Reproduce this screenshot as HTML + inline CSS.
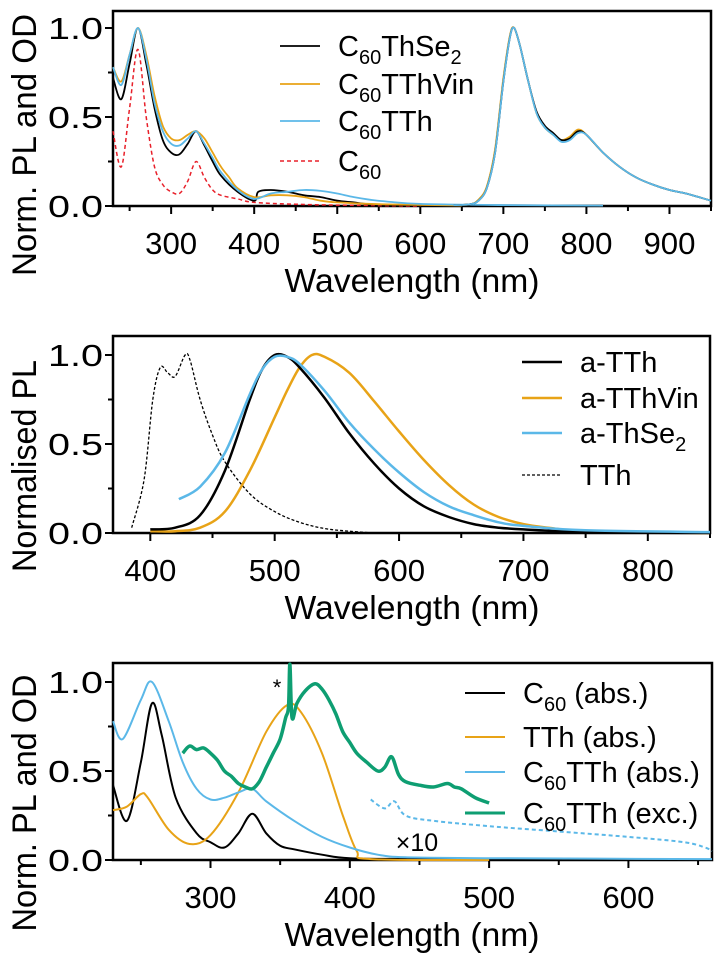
<!DOCTYPE html>
<html><head><meta charset="utf-8"><style>
body{margin:0;background:#fff}
svg{display:block;font-family:"Liberation Sans",Arial,sans-serif}
</style></head><body>
<svg id="fig" width="720" height="964" viewBox="0 0 720 964"></svg>
<script>
// ---------- Panel 1 data ----------
const p1ThSe2Abs = [[230,0.72],[240,0.6],[250,0.8],[260,1.0],[270,0.8],[280,0.55],[290,0.37],[300,0.3],[310,0.29],[320,0.35],[330,0.42],[340,0.34],[350,0.25],[360,0.17],[380,0.08],[400,0.03],[405,0.08],[420,0.09],[440,0.08],[460,0.06],[480,0.05],[500,0.03],[520,0.02],[540,0.01],[600,0.005],[820,0.003]];
const p1ThSe2PL = [[640,0.005],[660,0.01],[670,0.03],[680,0.1],[690,0.3],[700,0.7],[708,0.95],[713,1.0],[720,0.9],[730,0.7],[740,0.53],[750,0.45],[760,0.41],[770,0.37],[780,0.38],[790,0.42],[800,0.4],[820,0.3],[840,0.22],[860,0.16],[880,0.12],[900,0.09],[920,0.07],[950,0.03]];
const p1TThVinAbs = [[230,0.78],[240,0.7],[250,0.85],[260,1.0],[270,0.85],[280,0.62],[290,0.45],[300,0.38],[310,0.37],[320,0.4],[330,0.42],[340,0.38],[350,0.3],[360,0.22],[370,0.16],[380,0.1],[400,0.05],[420,0.06],[440,0.06],[460,0.05],[480,0.03],[500,0.02],[550,0.01],[650,0.003]];
const p1TThVinPL = [[640,0.005],[660,0.01],[670,0.035],[680,0.11],[690,0.32],[700,0.72],[708,0.96],[713,1.0],[720,0.9],[730,0.7],[740,0.52],[750,0.44],[760,0.4],[770,0.37],[780,0.39],[790,0.43],[800,0.4],[820,0.3],[840,0.22],[860,0.16],[880,0.12],[900,0.09],[920,0.07],[950,0.03]];
const p1TThAbs = [[230,0.78],[240,0.68],[250,0.85],[260,1.0],[270,0.83],[280,0.58],[290,0.42],[300,0.35],[310,0.34],[320,0.38],[330,0.42],[340,0.35],[350,0.27],[360,0.19],[380,0.09],[400,0.04],[420,0.07],[440,0.08],[460,0.09],[480,0.085],[500,0.07],[520,0.05],[540,0.035],[560,0.025],[600,0.012],[700,0.005],[820,0.002]];
const p1TThPL = [[640,0.005],[660,0.01],[670,0.03],[680,0.1],[690,0.3],[700,0.7],[708,0.95],[713,1.0],[720,0.9],[730,0.7],[740,0.52],[750,0.44],[760,0.4],[770,0.36],[780,0.37],[790,0.41],[800,0.4],[820,0.3],[840,0.22],[860,0.16],[880,0.12],[900,0.09],[920,0.07],[950,0.03]];
const p1C60 = [[230,0.42],[240,0.22],[250,0.55],[260,0.88],[270,0.5],[280,0.22],[290,0.12],[300,0.08],[310,0.07],[320,0.14],[330,0.25],[340,0.16],[350,0.09],[360,0.06],[380,0.04],[400,0.02],[450,0.01],[500,0.005],[600,0.0]];
const p1XTicks = [300,400,500,600,700,800,900];
const yTickLabels = ["0.0","0.5","1.0"];
const yTickVals = [0,0.5,1.0];

// ---------- Panel 2 data ----------
const p2TTh = [[400,0.02],[420,0.03],[440,0.1],[460,0.35],[480,0.75],[490,0.92],[500,1.0],[510,0.99],[520,0.93],[540,0.76],[560,0.56],[580,0.39],[600,0.25],[620,0.15],[640,0.09],[660,0.05],[680,0.03],[700,0.02],[750,0.005],[850,0.0]];
const p2TThVin = [[400,0.01],[420,0.01],[440,0.03],[460,0.12],[480,0.35],[500,0.65],[510,0.8],[520,0.93],[530,1.0],[540,0.99],[560,0.9],[580,0.74],[600,0.57],[620,0.41],[640,0.27],[660,0.16],[680,0.09],[700,0.05],[720,0.03],[750,0.01],[850,0.0]];
const p2ThSe2 = [[423,0.19],[440,0.26],[460,0.45],[480,0.78],[490,0.92],[500,0.99],[510,0.99],[520,0.95],[540,0.8],[560,0.62],[580,0.47],[600,0.34],[620,0.23],[640,0.15],[660,0.1],[680,0.06],[700,0.04],[750,0.015],[850,0.005]];
const p2TThSol = [[385,0.03],[395,0.3],[402,0.75],[408,0.93],[414,0.9],[420,0.88],[428,1.0],[432,0.97],[440,0.75],[450,0.55],[460,0.4],[480,0.22],[500,0.12],[520,0.06],[540,0.025],[560,0.01],[580,0.0]];
const p2XTicks = [400,500,600,700,800];

// ---------- Panel 3 data ----------
const p3C60 = [[230,0.42],[240,0.22],[250,0.55],[258,0.88],[265,0.7],[275,0.35],[290,0.15],[300,0.1],[310,0.07],[320,0.15],[330,0.26],[340,0.15],[350,0.08],[360,0.06],[380,0.03],[400,0.01],[450,0.005],[500,0.0]];
const p3TTh = [[230,0.28],[240,0.3],[250,0.37],[255,0.35],[270,0.17],[285,0.09],[300,0.14],[320,0.38],[340,0.72],[355,0.87],[365,0.83],[380,0.6],[395,0.25],[405,0.05],[415,0.005],[500,0.0]];
const p3C60TTh = [[230,0.78],[237,0.68],[250,0.9],[258,1.0],[270,0.78],[280,0.55],[290,0.4],[300,0.34],[310,0.35],[320,0.38],[330,0.4],[340,0.33],[360,0.22],[380,0.13],[400,0.07],[420,0.03],[440,0.015],[500,0.01],[660,0.005]];
const p3C60TThX10 = [[415,0.34],[425,0.29],[432,0.33],[440,0.25],[460,0.22],[500,0.19],[550,0.16],[600,0.13],[640,0.1],[655,0.07],[660,0.05]];
const p3Exc = [[280,0.6],[285,0.64],[290,0.62],[295,0.63],[300,0.6],[305,0.56],[310,0.5],[315,0.47],[320,0.43],[325,0.41],[330,0.4],[335,0.44],[340,0.52],[345,0.6],[350,0.68],[354,0.8],[356,0.86],[357,1.1],[358.5,0.8],[362,0.88],[368,0.95],[375,0.99],[380,0.96],[385,0.9],[390,0.82],[395,0.72],[400,0.66],[405,0.6],[412,0.55],[420,0.5],[425,0.52],[430,0.58],[435,0.48],[440,0.44],[450,0.42],[460,0.41],[470,0.43],[475,0.41],[480,0.4],[490,0.35],[500,0.32]];
const p3XTicks = [300,400,500,600];

const NS="http://www.w3.org/2000/svg";
const svg=document.getElementById('fig');
function mk(tag,attrs,parent){const e=document.createElementNS(NS,tag);for(const k in attrs)e.setAttribute(k,attrs[k]);(parent||svg).appendChild(e);return e;}

function makeAxes(P){
  const sx=v=>P.x0+(v-P.xmin)/(P.xmax-P.xmin)*(P.x1-P.x0);
  const sy=v=>P.yz+(P.yo-P.yz)*v;
  return {sx,sy};
}
function pathD(data,sx,sy,P){
  const pts=data.map(d=>[sx(d[0]),Math.max(P.top,sy(d[1]))]);
  let d='M'+pts[0][0].toFixed(1)+','+pts[0][1].toFixed(1);
  for(let i=0;i<pts.length-1;i++){
    const p0=pts[Math.max(0,i-1)],p1=pts[i],p2=pts[i+1],p3=pts[Math.min(pts.length-1,i+2)];
    const c1=[p1[0]+(p2[0]-p0[0])/6,p1[1]+(p2[1]-p0[1])/6];
    const c2=[p2[0]-(p3[0]-p1[0])/6,p2[1]-(p3[1]-p1[1])/6];
    d+=' C'+c1[0].toFixed(1)+','+c1[1].toFixed(1)+' '+c2[0].toFixed(1)+','+c2[1].toFixed(1)+' '+p2[0].toFixed(1)+','+p2[1].toFixed(1);
  }
  return d;
}
function frame(P,xt,ytitle,ylen,ycenter,name){
  const g=mk('g',{});
  
  
  const {sx,sy}=makeAxes(P);
  const bg=mk('rect',{x:P.x0,y:P.top,width:P.x1-P.x0,height:P.yz-P.top,fill:'none',stroke:'#000','stroke-width':2.5},g);
  
  
  for(let v=Math.ceil(P.xmin/50)*50; v<=P.xmax; v+=50){
    const major=xt.includes(v);
    mk('line',{x1:sx(v),x2:sx(v),y1:P.yz,y2:P.yz+(major?8:5),stroke:'#000','stroke-width':2},g);
  }
  xt.forEach(v=>{
    const t=mk('text',{x:sx(v),y:P.yz+48,'font-size':31,'text-anchor':'middle',fill:'#000',textLength:52,lengthAdjust:'spacingAndGlyphs'},g);
    t.textContent=v;
    
    
  });
  [0,0.25,0.5,0.75,1.0].forEach(v=>{
    const major=yTickVals.includes(v);
    mk('line',{x1:P.x0,x2:P.x0-(major?8:5),y1:sy(v),y2:sy(v),stroke:'#000','stroke-width':2},g);
  });
  yTickVals.forEach((v,i)=>{
    const t=mk('text',{x:P.x0-10,y:sy(v)+11,'font-size':31,'text-anchor':'end',fill:'#000',textLength:55,lengthAdjust:'spacingAndGlyphs'},g);
    t.textContent=yTickLabels[i];
    
    
  });
  const xtl=mk('text',{x:412,y:P.yz+86,'font-size':33,'text-anchor':'middle',fill:'#000',textLength:255,lengthAdjust:'spacingAndGlyphs'},g);
  xtl.textContent='Wavelength (nm)';
  
  
  const ytl=mk('text',{x:0,y:0,'font-size':34,'text-anchor':'middle',fill:'#000',textLength:ylen,lengthAdjust:'spacingAndGlyphs',transform:`translate(36,${ycenter}) rotate(-90)`},g);
  ytl.textContent=ytitle;
  
  
  return {sx,sy};
}
function series(P,A,data,color,w,dash,name){
  const p=mk('path',{d:pathD(data,A.sx,A.sy,P),fill:'none',stroke:color,'stroke-width':w,'stroke-linejoin':'round'});
  if(dash)p.setAttribute('stroke-dasharray',dash);
  
  
}
function legend(x,y,color,w,dash,parts,name){
  const g=mk('g',{});
  
  
  const l=mk('line',{x1:x,x2:x+40,y1:y,y2:y,stroke:color,'stroke-width':w},g);
  if(dash)l.setAttribute('stroke-dasharray',dash);
  const t=mk('text',{x:x+58,y:y+10,'font-size':29,fill:'#000'},g);
  let shifted=false;
  parts.forEach(pt=>{
    const isSub=pt.startsWith('_');
    const s=mk('tspan',{},t);
    if(isSub){s.setAttribute('font-size',20);s.setAttribute('dy',8);shifted=true;s.textContent=pt.slice(1);}
    else{if(shifted){s.setAttribute('dy',-8);shifted=false;}s.textContent=pt;}
  });
}
const BLK='#000',ORG='#E8A317',BLU='#5BB8E8',RED='#E8202A',GRN='#0E9E72';

// Panel 1
const P1={x0:113,x1:711,top:11,yz:206,yo:28,xmin:230,xmax:950};
const A1=frame(P1,p1XTicks,'Norm. PL and OD',262,145,'panel-1-axes');
series(P1,A1,p1C60,RED,1.5,'4,3','series-c60');
series(P1,A1,p1ThSe2Abs,BLK,1.8,null,'series-c60thse2-abs');
series(P1,A1,p1TThVinAbs,ORG,1.8,null,'series-c60tthvin-abs');
series(P1,A1,p1TThAbs,BLU,1.8,null,'series-c60tth-abs');
series(P1,A1,p1TThVinPL,ORG,1.8,null,'series-c60tthvin-pl');
series(P1,A1,p1ThSe2PL,BLK,1.8,null,'series-c60thse2-pl');
series(P1,A1,p1TThPL,BLU,1.8,null,'series-c60tth-pl');
legend(280,46,BLK,1.8,null,['C','_60','ThSe','_2'],'legend-c60thse2');
legend(280,84,ORG,1.8,null,['C','_60','TThVin'],'legend-c60tthvin');
legend(280,121,BLU,1.8,null,['C','_60','TTh'],'legend-c60tth');
legend(280,161,RED,1.5,'4,3',['C','_60'],'legend-c60');

// Panel 2
const P2={x0:113,x1:710,top:336,yz:533,yo:355,xmin:370,xmax:850};
const A2=frame(P2,p2XTicks,'Normalised PL',212,466,'panel-2-axes');
series(P2,A2,p2TThSol,BLK,1.3,'3,2','series-tth-solution');
series(P2,A2,p2TThVin,ORG,2.5,null,'series-a-tthvin');
series(P2,A2,p2TTh,BLK,2.5,null,'series-a-tth');
series(P2,A2,p2ThSe2,BLU,2.5,null,'series-a-thse2');
legend(522,362,BLK,2.5,null,['a-TTh'],'legend-a-tth');
legend(522,398,ORG,2.5,null,['a-TThVin'],'legend-a-tthvin');
legend(522,433,BLU,2.5,null,['a-ThSe','_2'],'legend-a-thse2');
legend(522,475,BLK,1.3,'3,2',['TTh'],'legend-tth');

// Panel 3
const P3={x0:113,x1:712,top:663,yz:860,yo:682,xmin:230,xmax:660};
const A3=frame(P3,p3XTicks,'Norm. PL and OD',257,803,'panel-3-axes');
series(P3,A3,p3C60TThX10,BLU,2,'4,3','series-c60tth-abs-x10');
series(P3,A3,p3C60,BLK,2,null,'series-c60-abs');
series(P3,A3,p3TTh,ORG,2,null,'series-tth-abs');
series(P3,A3,p3C60TTh,BLU,2,null,'series-c60tth-abs');
series(P3,A3,p3Exc,GRN,3.5,null,'series-c60tth-exc');
legend(465,693,BLK,2,null,['C','_60',' (abs.)'],'legend-c60-abs');
legend(465,737,ORG,2,null,['TTh (abs.)'],'legend-tth-abs');
legend(465,772,BLU,2,null,['C','_60','TTh (abs.)'],'legend-c60tth-abs');
legend(465,813,GRN,3,null,['C','_60','TTh (exc.)'],'legend-c60tth-exc');
const star=mk('text',{x:277,y:695,'font-size':22,'text-anchor':'middle',fill:'#000'});
star.textContent='*';


const x10=mk('text',{x:417,y:851,'font-size':25,'text-anchor':'middle',fill:'#000'});
x10.textContent='×10';


</script>
</body></html>
